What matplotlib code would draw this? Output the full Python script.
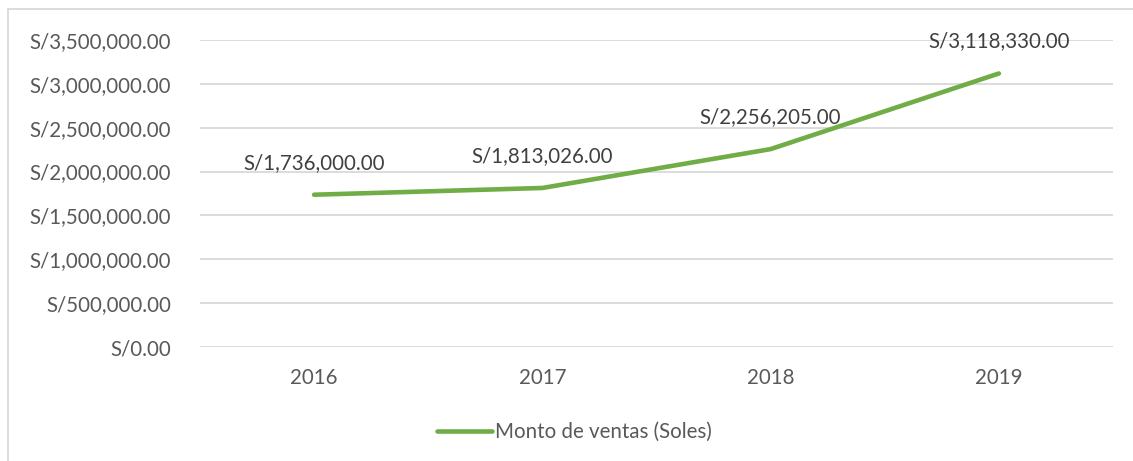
import matplotlib
matplotlib.use('Agg')
import matplotlib.pyplot as plt
from matplotlib.ticker import FuncFormatter
from matplotlib.patches import Rectangle

plt.rcParams['font.family'] = ['Lato', 'DejaVu Sans']

years = ['2016', '2017', '2018', '2019']
ventas = [1736000.00, 1813026.00, 2256205.00, 3118330.00]
serie = 'Monto de ventas (Soles)'

verde = '#70AD47'
gris_texto = '#595959'
gris_grid = '#D9D9D9'
fs = 14.8

fig = plt.figure(figsize=(11.33, 4.61), dpi=100)
ax = fig.add_axes([200 / 1133, 1 - 347 / 461, 913 / 1133, 307 / 461])

x = list(range(len(years)))
ax.plot(x, ventas, color=verde, lw=3.3, solid_capstyle='round',
        solid_joinstyle='round', label=serie, zorder=3)

# etiquetas de datos
for xi, v in zip(x, ventas):
    ax.annotate('S/{:,.2f}'.format(v), (xi, v), xytext=(0, 23),
                textcoords='offset points', ha='center', va='center',
                fontsize=fs, color='#404040', zorder=4)

ax.set_xlim(-0.5, len(years) - 0.5)
ax.set_ylim(0, 3500000)
ax.set_yticks([i * 500000 for i in range(8)])
ax.yaxis.set_major_formatter(FuncFormatter(lambda v, p: 'S/{:,.2f}'.format(v)))
ax.set_xticks(x)
ax.set_xticklabels(years)

ax.grid(axis='y', color=gris_grid, lw=1.3)
ax.set_axisbelow(True)
for s in ax.spines.values():
    s.set_visible(False)
ax.tick_params(length=0, labelsize=fs, colors=gris_texto)
ax.tick_params(axis='y', pad=21)
ax.tick_params(axis='x', pad=15)

leg = fig.legend(loc='center', bbox_to_anchor=(0.507, 1 - 432 / 461),
                 frameon=False, fontsize=fs, handlelength=2.7,
                 handletextpad=0.15, labelcolor=gris_texto)

# borde del grafico
fig.patches.append(Rectangle((8 / 1133, -0.1), 1.2, 1 - 9 / 461 + 0.1,
                             transform=fig.transFigure, fill=False,
                             edgecolor='#D9D9D9', lw=1.3))

fig.savefig('out.png', dpi=100)
